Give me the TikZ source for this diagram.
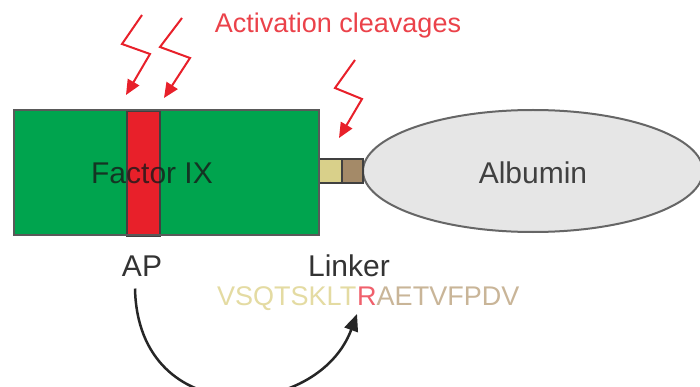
\documentclass[tikz,border=0pt]{standalone}
\usepackage{fontspec}
\setmainfont{Liberation Sans}
\usetikzlibrary{arrows.meta,shapes.geometric}
\definecolor{fgreen}{HTML}{00A44E}
\definecolor{fred}{HTML}{E8202A}
\definecolor{lyellow}{HTML}{D9D08A}
\definecolor{lbrown}{HTML}{A48A68}
\definecolor{albfill}{HTML}{E6E6E6}
\definecolor{seqy}{HTML}{E4DBA2}
\definecolor{seqr}{HTML}{F0606C}
\definecolor{seqb}{HTML}{C9B598}
\tikzset{
  box/.style={draw=black!65, line width=2pt, inner sep=0pt, outer sep=0pt},
  bolt/.style={draw=fred, line width=2pt, -{Triangle[length=15pt,width=13pt]}},
  lab/.style={font=\fontsize{30}{34}\selectfont, text=black!80, inner sep=0pt},
  seq/.style={font=\fontsize{27}{31}\selectfont, inner sep=0pt}
}
\begin{document}
\begin{tikzpicture}[x=1pt,y=-1pt]
\clip (0,0) rectangle (700,387);
\fill[white] (0,0) rectangle (700,387);
% Albumin
\node[ellipse, draw=black!60, fill=albfill, line width=2pt, minimum width=340pt, minimum height=122pt, inner sep=0pt] (alb) at (533,171) {};
\node[lab, text=black!75] (albt) at (533,173) {Albumin};
% linker
\node[box, draw=black!75, fill=lyellow, minimum width=25pt, minimum height=24pt, anchor=north west] (ly) at (317,159) {};
\node[box, draw=black!75, fill=lbrown, minimum width=21pt, minimum height=24pt, anchor=north west] (lb) at (342,159) {};
% Factor IX
\node[box, fill=fgreen, minimum width=305pt, minimum height=125pt, anchor=north west] (f9) at (14,110) {};
\node[draw=black!75, line width=2pt, fill=fred, minimum width=33pt, minimum height=125pt, inner sep=0pt, anchor=north west] (ap) at (126,110) {};
\draw[black!65, line width=2pt] (f9.north west) rectangle (f9.south east);
\node[lab, text=black!90, opacity=0.8] (f9t) at (152,173) {Factor IX};
% labels
\node[seq, text=fred!85] (act) at (338,26) {Activation cleavages};
\node[lab] (aplab) at (142,266) {AP};
\node[lab] (lnk) at (349,266) {Linker};
\node[seq, anchor=west] (sq) at (217,299) {\textcolor{seqy}{VSQTSKLT}\kern1pt\textcolor{seqr}{R}\textcolor{seqb}{AETVFPDV}};
% bolts
\draw[bolt] (142,15) -- (122,44) -- (150,54) -- (126,95);
\draw[bolt] (182,18) -- (160,47) -- (190,58) -- (164,98);
\draw[bolt] (355,60) -- (335,88) -- (362,99) -- (339,138);
% curved arrow
\coordinate (cend) at (357,314);
\draw[black!85, line width=2.5pt, -{Triangle[length=17pt,width=14pt]}] (aplab.south) ++(-7,12) .. controls (138,432) and (318,420) .. (cend);
\end{tikzpicture}
\end{document}
